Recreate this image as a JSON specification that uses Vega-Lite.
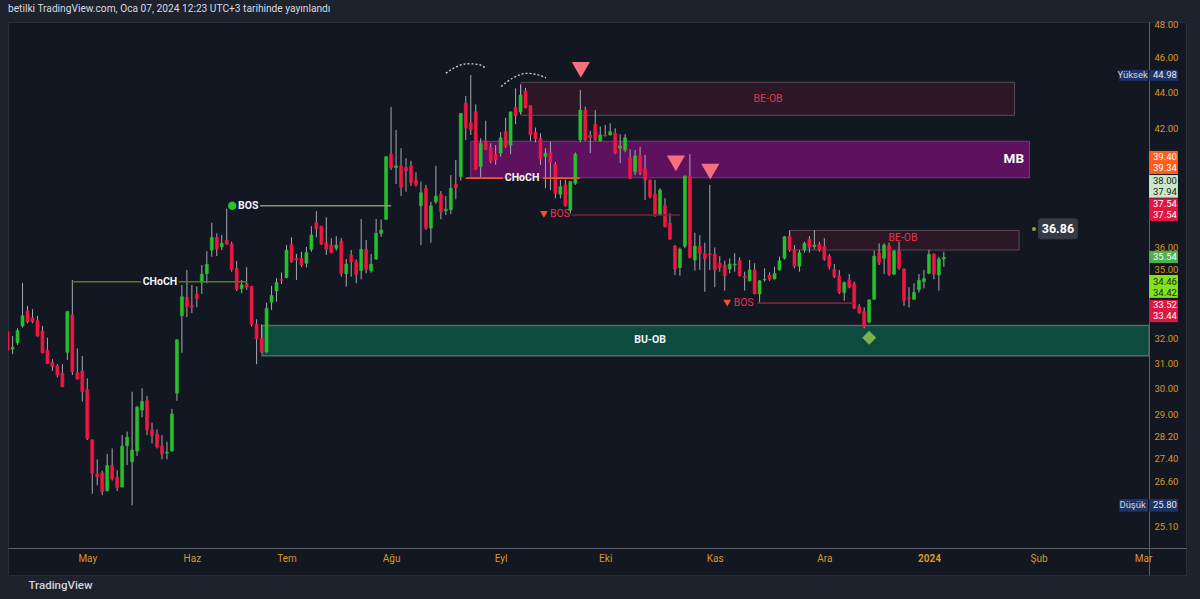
{
  "$schema": "https://vega.github.io/schema/vega-lite/v6.json",
  "width": 1178,
  "height": 553,
  "autosize": {"type": "none"},
  "padding": {"left": 8, "top": 22, "right": 14, "bottom": 24},
  "background": "#1e222d",
  "config": {
    "view": {"fill": "#131722", "stroke": "#2a2e39"},
    "font": "Roboto",
    "legend": {"disable": true},
    "scale": {"continuousPadding": 0}
  },
  "title": {
    "text": "betilki TradingView.com, Oca 07, 2024 12:23 UTC+3 tarihinde yayınlandı",
    "anchor": "start", "frame": "group", "fontSize": 10.2, "fontWeight": "normal",
    "color": "#d8dbe2", "font": "Roboto", "offset": 6
  },
  "datasets": {
    "k": [
      {"i":-16,"o":32.29,"h":32.35,"l":31.48,"c":31.53},
      {"i":-15,"o":31.57,"h":32.11,"l":31.37,"c":31.64},
      {"i":-14,"o":31.83,"h":32.43,"l":31.74,"c":32.33},
      {"i":-13,"o":32.53,"h":34.39,"l":32.46,"c":32.96},
      {"i":-12,"o":33.17,"h":33.38,"l":32.64,"c":32.71},
      {"i":-11,"o":32.87,"h":33.24,"l":32.64,"c":32.70},
      {"i":-10,"o":32.75,"h":32.96,"l":32.08,"c":32.11},
      {"i":-9,"o":32.31,"h":32.53,"l":31.40,"c":31.42},
      {"i":-8,"o":31.53,"h":32.04,"l":30.97,"c":30.99},
      {"i":-7,"o":31.03,"h":31.16,"l":30.70,"c":30.86},
      {"i":-6,"o":30.89,"h":30.97,"l":30.44,"c":30.53},
      {"i":-5,"o":30.60,"h":30.96,"l":30.05,"c":30.08},
      {"i":-4,"o":31.44,"h":33.16,"l":31.13,"c":33.14},
      {"i":-3,"o":33.00,"h":34.52,"l":30.53,"c":30.66},
      {"i":-2,"o":30.62,"h":31.60,"l":30.36,"c":30.37},
      {"i":-1,"o":30.69,"h":31.29,"l":29.50,"c":29.88},
      {"i":0,"o":29.97,"h":30.40,"l":28.07,"c":28.13},
      {"i":1,"o":28.07,"h":28.10,"l":26.19,"c":26.89},
      {"i":2,"o":26.87,"h":27.38,"l":26.48,"c":26.77},
      {"i":3,"o":26.91,"h":26.98,"l":26.14,"c":26.25},
      {"i":4,"o":26.29,"h":27.57,"l":26.27,"c":27.16},
      {"i":5,"o":27.17,"h":27.77,"l":26.64,"c":26.69},
      {"i":6,"o":26.75,"h":27.00,"l":26.28,"c":26.40},
      {"i":7,"o":26.42,"h":28.25,"l":26.40,"c":27.85},
      {"i":8,"o":27.87,"h":28.38,"l":27.18,"c":28.17},
      {"i":9,"o":27.29,"h":29.88,"l":25.80,"c":27.71},
      {"i":10,"o":27.68,"h":29.34,"l":27.50,"c":29.28},
      {"i":11,"o":29.18,"h":30.01,"l":28.91,"c":29.50},
      {"i":12,"o":29.53,"h":29.72,"l":28.25,"c":28.44},
      {"i":13,"o":28.44,"h":28.71,"l":27.95,"c":28.23},
      {"i":14,"o":28.29,"h":28.46,"l":27.77,"c":27.83},
      {"i":15,"o":27.85,"h":28.25,"l":27.38,"c":27.57},
      {"i":16,"o":27.60,"h":28.01,"l":27.38,"c":27.63},
      {"i":17,"o":27.68,"h":29.22,"l":27.65,"c":29.03},
      {"i":18,"o":29.82,"h":31.97,"l":29.53,"c":31.95},
      {"i":19,"o":32.96,"h":34.30,"l":31.42,"c":33.78},
      {"i":20,"o":33.76,"h":34.97,"l":32.90,"c":33.35},
      {"i":21,"o":33.41,"h":34.30,"l":33.07,"c":33.32},
      {"i":22,"o":33.90,"h":34.23,"l":33.32,"c":33.70},
      {"i":23,"o":34.40,"h":35.19,"l":33.90,"c":34.78},
      {"i":24,"o":34.80,"h":35.83,"l":34.37,"c":35.22},
      {"i":25,"o":35.88,"h":37.17,"l":35.57,"c":36.47},
      {"i":26,"o":36.47,"h":36.66,"l":35.60,"c":35.93},
      {"i":27,"o":36.03,"h":36.58,"l":35.88,"c":36.19},
      {"i":28,"o":36.35,"h":37.85,"l":36.13,"c":36.15},
      {"i":29,"o":36.15,"h":36.27,"l":34.89,"c":35.00},
      {"i":30,"o":35.04,"h":35.37,"l":34.03,"c":34.11},
      {"i":31,"o":34.13,"h":34.52,"l":33.93,"c":34.30},
      {"i":32,"o":34.35,"h":35.09,"l":34.08,"c":34.19},
      {"i":33,"o":34.23,"h":34.25,"l":32.50,"c":32.60},
      {"i":34,"o":32.60,"h":32.81,"l":30.96,"c":31.99},
      {"i":35,"o":32.02,"h":32.60,"l":31.42,"c":31.46},
      {"i":36,"o":31.46,"h":33.52,"l":31.42,"c":33.28},
      {"i":37,"o":33.54,"h":34.26,"l":33.21,"c":33.83},
      {"i":38,"o":34.03,"h":34.60,"l":33.56,"c":34.41},
      {"i":39,"o":34.54,"h":34.85,"l":34.34,"c":34.50},
      {"i":40,"o":34.62,"h":36.11,"l":34.60,"c":35.88},
      {"i":41,"o":36.14,"h":36.47,"l":35.30,"c":35.34},
      {"i":42,"o":35.50,"h":35.70,"l":34.52,"c":35.42},
      {"i":43,"o":35.50,"h":35.80,"l":35.11,"c":35.19},
      {"i":44,"o":35.27,"h":36.03,"l":35.08,"c":35.76},
      {"i":45,"o":35.91,"h":37.00,"l":35.80,"c":36.58},
      {"i":46,"o":37.17,"h":37.73,"l":36.47,"c":36.88},
      {"i":47,"o":37.00,"h":37.02,"l":36.11,"c":36.15},
      {"i":48,"o":36.23,"h":37.43,"l":35.65,"c":35.91},
      {"i":49,"o":36.11,"h":36.43,"l":35.73,"c":35.76},
      {"i":50,"o":35.96,"h":36.53,"l":35.85,"c":36.11},
      {"i":51,"o":36.30,"h":36.43,"l":34.67,"c":34.81},
      {"i":52,"o":34.80,"h":35.47,"l":34.23,"c":35.23},
      {"i":53,"o":35.65,"h":35.88,"l":34.67,"c":35.34},
      {"i":54,"o":35.34,"h":35.45,"l":34.37,"c":34.77},
      {"i":55,"o":34.94,"h":37.35,"l":34.55,"c":35.91},
      {"i":56,"o":35.91,"h":36.35,"l":34.82,"c":35.00},
      {"i":57,"o":34.94,"h":35.70,"l":34.85,"c":35.23},
      {"i":58,"o":35.47,"h":37.35,"l":35.42,"c":36.66},
      {"i":59,"o":36.66,"h":37.32,"l":36.50,"c":36.82},
      {"i":60,"o":37.33,"h":40.50,"l":37.30,"c":40.48},
      {"i":61,"o":40.62,"h":43.17,"l":39.79,"c":39.92},
      {"i":62,"o":39.92,"h":41.90,"l":39.08,"c":40.00},
      {"i":63,"o":40.00,"h":40.92,"l":38.47,"c":38.91},
      {"i":64,"o":39.92,"h":40.40,"l":38.69,"c":39.74},
      {"i":65,"o":40.00,"h":40.26,"l":38.98,"c":39.14},
      {"i":66,"o":39.28,"h":39.67,"l":38.94,"c":39.03},
      {"i":67,"o":37.99,"h":39.20,"l":36.11,"c":38.64},
      {"i":68,"o":38.86,"h":39.03,"l":36.82,"c":36.91},
      {"i":69,"o":36.91,"h":38.19,"l":36.22,"c":37.99},
      {"i":70,"o":38.19,"h":40.00,"l":38.09,"c":38.47},
      {"i":71,"o":38.56,"h":38.72,"l":37.33,"c":37.69},
      {"i":72,"o":37.75,"h":38.47,"l":37.54,"c":37.82},
      {"i":73,"o":37.80,"h":39.53,"l":37.59,"c":38.86},
      {"i":74,"o":39.07,"h":40.31,"l":38.31,"c":38.88},
      {"i":75,"o":39.45,"h":42.82,"l":39.25,"c":42.80},
      {"i":76,"o":43.38,"h":43.78,"l":41.36,"c":42.01},
      {"i":77,"o":42.29,"h":44.98,"l":41.63,"c":41.92},
      {"i":78,"o":42.90,"h":43.31,"l":39.79,"c":39.83},
      {"i":79,"o":39.97,"h":41.45,"l":39.41,"c":41.18},
      {"i":80,"o":41.31,"h":42.40,"l":40.83,"c":40.86},
      {"i":81,"o":40.97,"h":41.18,"l":40.14,"c":40.26},
      {"i":82,"o":40.60,"h":41.09,"l":40.05,"c":40.31},
      {"i":83,"o":40.66,"h":41.78,"l":40.48,"c":41.48},
      {"i":84,"o":41.81,"h":42.56,"l":40.95,"c":41.02},
      {"i":85,"o":41.09,"h":42.90,"l":40.61,"c":42.89},
      {"i":86,"o":43.13,"h":44.21,"l":42.21,"c":42.67},
      {"i":87,"o":42.89,"h":44.43,"l":42.75,"c":43.83},
      {"i":88,"o":44.06,"h":44.24,"l":43.08,"c":43.12},
      {"i":89,"o":43.23,"h":43.25,"l":41.31,"c":41.63},
      {"i":90,"o":41.78,"h":42.03,"l":41.24,"c":41.41},
      {"i":91,"o":41.45,"h":41.72,"l":40.05,"c":40.36},
      {"i":92,"o":40.49,"h":40.92,"l":38.86,"c":40.66},
      {"i":93,"o":40.69,"h":41.27,"l":38.77,"c":40.19},
      {"i":94,"o":40.08,"h":40.19,"l":38.36,"c":38.60},
      {"i":95,"o":38.56,"h":39.28,"l":38.36,"c":38.94},
      {"i":96,"o":39.03,"h":39.30,"l":37.95,"c":37.99},
      {"i":97,"o":37.78,"h":39.22,"l":37.62,"c":39.20},
      {"i":98,"o":39.11,"h":40.69,"l":39.03,"c":40.60},
      {"i":99,"o":41.36,"h":44.12,"l":41.24,"c":42.99},
      {"i":100,"o":42.99,"h":43.18,"l":41.31,"c":41.36},
      {"i":101,"o":41.63,"h":41.85,"l":40.66,"c":41.49},
      {"i":102,"o":42.21,"h":42.99,"l":41.31,"c":41.36},
      {"i":103,"o":41.31,"h":42.09,"l":41.27,"c":41.63},
      {"i":104,"o":41.63,"h":42.17,"l":41.54,"c":41.58},
      {"i":105,"o":41.63,"h":42.26,"l":41.60,"c":41.81},
      {"i":106,"o":41.72,"h":41.99,"l":40.61,"c":40.66},
      {"i":107,"o":40.92,"h":41.67,"l":40.14,"c":41.04},
      {"i":108,"o":40.83,"h":41.67,"l":40.71,"c":41.48},
      {"i":109,"o":40.40,"h":40.87,"l":39.33,"c":39.36},
      {"i":110,"o":39.70,"h":40.83,"l":39.53,"c":40.52},
      {"i":111,"o":40.53,"h":41.00,"l":39.53,"c":39.65},
      {"i":112,"o":39.87,"h":40.57,"l":38.27,"c":39.28},
      {"i":113,"o":39.28,"h":39.31,"l":38.36,"c":38.44},
      {"i":114,"o":38.57,"h":39.28,"l":37.46,"c":37.54},
      {"i":115,"o":37.54,"h":38.86,"l":37.49,"c":38.77},
      {"i":116,"o":37.99,"h":38.36,"l":36.95,"c":36.98},
      {"i":117,"o":37.14,"h":37.62,"l":36.35,"c":36.39},
      {"i":118,"o":36.06,"h":36.11,"l":34.74,"c":35.01},
      {"i":119,"o":35.08,"h":36.00,"l":34.71,"c":35.91},
      {"i":120,"o":36.06,"h":39.50,"l":35.96,"c":39.48},
      {"i":121,"o":39.45,"h":40.62,"l":35.50,"c":35.54},
      {"i":122,"o":35.42,"h":36.69,"l":34.94,"c":36.06},
      {"i":123,"o":36.06,"h":36.58,"l":34.97,"c":35.73},
      {"i":124,"o":35.73,"h":36.22,"l":34.00,"c":35.47},
      {"i":125,"o":35.71,"h":39.03,"l":34.97,"c":35.66},
      {"i":126,"o":35.68,"h":36.00,"l":34.20,"c":34.97},
      {"i":127,"o":35.27,"h":35.60,"l":34.89,"c":35.07},
      {"i":128,"o":35.19,"h":35.39,"l":34.05,"c":34.70},
      {"i":129,"o":35.01,"h":35.50,"l":34.82,"c":35.24},
      {"i":130,"o":35.20,"h":35.73,"l":34.89,"c":35.24},
      {"i":131,"o":35.39,"h":35.54,"l":34.67,"c":34.71},
      {"i":132,"o":34.69,"h":34.89,"l":34.05,"c":34.62},
      {"i":133,"o":34.48,"h":35.42,"l":34.45,"c":34.97},
      {"i":134,"o":34.97,"h":35.27,"l":33.89,"c":33.90},
      {"i":135,"o":33.90,"h":34.52,"l":33.50,"c":34.48},
      {"i":136,"o":34.52,"h":35.04,"l":34.45,"c":34.55},
      {"i":137,"o":34.74,"h":34.86,"l":34.48,"c":34.55},
      {"i":138,"o":34.56,"h":35.11,"l":34.55,"c":34.81},
      {"i":139,"o":34.97,"h":35.57,"l":34.94,"c":35.39},
      {"i":140,"o":35.50,"h":36.53,"l":35.45,"c":36.50},
      {"i":141,"o":36.53,"h":36.81,"l":35.80,"c":35.88},
      {"i":142,"o":35.91,"h":36.11,"l":35.04,"c":35.14},
      {"i":143,"o":35.14,"h":35.88,"l":34.89,"c":35.76},
      {"i":144,"o":35.88,"h":36.27,"l":35.76,"c":36.19},
      {"i":145,"o":36.38,"h":36.53,"l":35.76,"c":36.00},
      {"i":146,"o":36.04,"h":36.81,"l":35.91,"c":36.11},
      {"i":147,"o":36.16,"h":36.27,"l":35.80,"c":35.88},
      {"i":148,"o":36.04,"h":36.43,"l":35.39,"c":35.45},
      {"i":149,"o":35.60,"h":35.70,"l":34.99,"c":35.11},
      {"i":150,"o":34.99,"h":35.24,"l":34.60,"c":34.67},
      {"i":151,"o":34.70,"h":34.97,"l":33.90,"c":33.97},
      {"i":152,"o":33.97,"h":34.45,"l":33.61,"c":34.40},
      {"i":153,"o":34.52,"h":34.78,"l":34.15,"c":34.20},
      {"i":154,"o":34.35,"h":34.45,"l":33.24,"c":33.28},
      {"i":155,"o":33.35,"h":33.46,"l":33.04,"c":33.09},
      {"i":156,"o":33.14,"h":33.32,"l":32.43,"c":32.50},
      {"i":157,"o":32.69,"h":33.67,"l":32.64,"c":33.64},
      {"i":158,"o":33.67,"h":35.85,"l":33.65,"c":35.60},
      {"i":159,"o":35.76,"h":36.19,"l":35.19,"c":35.31},
      {"i":160,"o":35.50,"h":36.19,"l":34.78,"c":36.11},
      {"i":161,"o":36.08,"h":36.22,"l":34.70,"c":34.78},
      {"i":162,"o":34.78,"h":35.88,"l":34.74,"c":35.83},
      {"i":163,"o":35.83,"h":36.27,"l":34.97,"c":35.06},
      {"i":164,"o":35.01,"h":35.04,"l":33.38,"c":33.61},
      {"i":165,"o":33.74,"h":34.20,"l":33.32,"c":33.69},
      {"i":166,"o":33.67,"h":34.37,"l":33.64,"c":33.97},
      {"i":167,"o":34.09,"h":34.78,"l":33.96,"c":34.50},
      {"i":168,"o":34.45,"h":34.97,"l":34.15,"c":34.58},
      {"i":169,"o":34.82,"h":35.88,"l":34.78,"c":35.68},
      {"i":170,"o":35.68,"h":35.73,"l":34.55,"c":34.78},
      {"i":171,"o":34.74,"h":35.57,"l":34.05,"c":35.47},
      {"i":172,"o":35.47,"h":35.80,"l":35.11,"c":35.54}
    ],
    "zones": [
      {"z":"BE-OB","i":87.1,"i2":186.2,"p":44.56,"p2":42.70},
      {"z":"BE-OB","i":141.1,"i2":187.1,"p":36.80,"p2":35.88},
      {"z":"MB","i":77.0,"i2":189.2,"p":41.29,"p2":39.39},
      {"z":"BU-OB","i":35.1,"i2":213.2,"p":32.55,"p2":31.30}
    ],
    "segs": [
      {"s":"choch1","i":-3.0,"i2":10.8,"p":34.44},
      {"s":"choch1","i":18.4,"i2":32.1,"p":34.44},
      {"s":"bosg","i":34.7,"i2":61.0,"p":37.99},
      {"s":"choch2","i":76.0,"i2":83.5,"p":39.37},
      {"s":"choch2","i":91.5,"i2":98.9,"p":39.37},
      {"s":"bosr","i":97.3,"i2":119.0,"p":37.54},
      {"s":"bosr","i":134.5,"i2":153.9,"p":33.50}
    ],
    "arcs": [
      {"a":1,"i":72.0,"p":45.08},{"a":1,"i":73.8,"p":45.42},{"a":1,"i":76.4,"p":45.64},{"a":1,"i":78.5,"p":45.60},{"a":1,"i":80.0,"p":45.39},
      {"a":2,"i":83.1,"p":44.32},{"a":2,"i":85.3,"p":44.78},{"a":2,"i":88.3,"p":45.08},{"a":2,"i":90.5,"p":44.99},{"a":2,"i":92.1,"p":44.82}
    ],
    "pts": [
      {"m":"tri","i":99.1,"p":45.28},
      {"m":"tri","i":118.2,"p":40.13},
      {"m":"tri","i":125.1,"p":39.70},
      {"m":"dia","i":157.0,"p":32.04},
      {"m":"dot","i":29.1,"p":37.99},
      {"m":"rtri","i":91.7,"p":37.57},
      {"m":"rtri","i":128.5,"p":33.50},
      {"m":"odot","i":190.1,"p":36.87}
    ],
    "labels": [
      {"g":"red","t":"BE-OB","i":136.7,"p":43.60},
      {"g":"red","t":"BE-OB","i":163.8,"p":36.42},
      {"g":"red","t":"BOS","i":94.9,"p":37.57},
      {"g":"red","t":"BOS","i":131.8,"p":33.50},
      {"g":"white","t":"CHoCH","i":14.6,"p":34.44},
      {"g":"white","t":"CHoCH","i":87.3,"p":39.37},
      {"g":"white","t":"BOS","i":32.3,"p":37.99},
      {"g":"white","t":"BU-OB","i":113.0,"p":31.93}
    ],
    "tags": [
      {"s":"hl","i":213.2,"i2":219.0,"p":45.28,"p2":44.64},
      {"s":"hl","i":207.2,"i2":213.0,"p":45.28,"p2":44.64},
      {"s":"mb","i":213.2,"i2":219.0,"p":40.78,"p2":39.58},
      {"s":"lt","i":213.2,"i2":219.0,"p":39.53,"p2":38.39},
      {"s":"bos","i":213.2,"i2":219.0,"p":38.36,"p2":37.25},
      {"s":"last","i":213.2,"i2":219.0,"p":35.84,"p2":35.28},
      {"s":"lime","i":213.2,"i2":219.0,"p":34.74,"p2":33.73},
      {"s":"bos","i":213.2,"i2":219.0,"p":33.64,"p2":32.69},
      {"s":"hl","i":213.2,"i2":219.0,"p":26.01,"p2":25.59},
      {"s":"hl","i":207.2,"i2":213.0,"p":26.01,"p2":25.59}
    ],
    "tagtext": [
      {"s":"hl","t":"44.98","i":214.0,"p":44.97},
      {"s":"mb","t":"39.40","i":214.0,"p":40.48},
      {"s":"mb","t":"39.34","i":214.0,"p":39.90},
      {"s":"lt","t":"38.00","i":214.0,"p":39.25},
      {"s":"lt","t":"37.94","i":214.0,"p":38.66},
      {"s":"bos","t":"37.54","i":214.0,"p":38.09},
      {"s":"bos","t":"37.54","i":214.0,"p":37.54},
      {"s":"last","t":"35.54","i":214.0,"p":35.55},
      {"s":"lime","t":"34.46","i":214.0,"p":34.44},
      {"s":"lime","t":"34.42","i":214.0,"p":33.96},
      {"s":"bos","t":"33.52","i":214.0,"p":33.41},
      {"s":"bos","t":"33.44","i":214.0,"p":32.94},
      {"s":"hl","t":"25.80","i":214.0,"p":25.80}
    ],
    "tagname": [
      {"t":"Yüksek","i":209.9,"p":44.97},
      {"t":"Düşük","i":209.9,"p":25.80}
    ],
    "cur": [
      {"t":"36.86","i":190.9,"i2":198.9,"p":37.38,"p2":36.38,"ic":194.9,"pc":36.87}
    ]
  },
  "layer": [
    {
      "data": {"name": "zones"},
      "transform": [{"filter": "datum.z === 'BE-OB'"}],
      "mark": {"type": "rect", "fill": "#2b1726", "stroke": "#5c4b57", "strokeWidth": 1},
      "encoding": {
        "x": {"field": "i", "type": "quantitative",
              "scale": {"domain": [-15.92, 220.62], "nice": false, "zero": false, "padding": 0},
              "axis": {
                "orient": "bottom", "offset": -27, "grid": false, "ticks": false,
                "values": [0, 21, 40, 61, 83, 104, 126, 148, 169, 191, 212],
                "labelExpr": "datum.value==0?'May':datum.value==21?'Haz':datum.value==40?'Tem':datum.value==61?'Ağu':datum.value==83?'Eyl':datum.value==104?'Eki':datum.value==126?'Kas':datum.value==148?'Ara':datum.value==169?'2024':datum.value==191?'Şub':'Mar'",
                "labelColor": "#d9982a", "labelFontSize": 10, "labelFont": "Roboto",
                "labelFontWeight": {"condition": {"test": "datum.value === 169", "value": "bold"}, "value": "normal"},
                "labelPadding": 5, "labelFlush": false, "labelOverlap": false,
                "domainColor": "#5d606b", "domainWidth": 1,
                "title": "TradingView", "titleX": 20, "titleY": 37, "titleAlign": "left",
                "titleBaseline": "middle", "titleAnchor": "start", "titleColor": "#d1d4dc",
                "titleFontSize": 11.5, "titleFontWeight": 500, "titleFont": "Roboto"
              }},
        "x2": {"field": "i2"},
        "y": {"field": "p", "type": "quantitative",
              "scale": {"type": "log", "domain": [23.58, 48.17], "nice": false, "zero": false},
              "axis": {
                "orient": "right", "offset": -37, "grid": false, "ticks": false,
                "values": [25.1, 26.6, 27.4, 28.2, 29, 30, 31, 32, 35, 36, 42, 44, 46, 48],
                "format": ".2f", "labelColor": "#d9982a", "labelFontSize": 9.5, "labelFont": "Roboto",
                "labelAlign": "left", "labelPadding": 5, "labelOverlap": false, "labelFlush": false,
                "domainColor": "#5d606b", "domainWidth": 1, "title": null
              }},
        "y2": {"field": "p2"}
      }
    },
    {
      "data": {"name": "zones"},
      "transform": [{"filter": "datum.z === 'MB'"}],
      "mark": {"type": "rect", "fill": "#5e115f", "stroke": "#7a3a7c", "strokeWidth": 1},
      "encoding": {
        "x": {"field": "i", "type": "quantitative"},
        "x2": {"field": "i2"},
        "y": {"field": "p", "type": "quantitative", "scale": {"type": "log", "domain": [23.58, 48.17], "nice": false, "zero": false}},
        "y2": {"field": "p2"}
      }
    },
    {
      "data": {"name": "zones"},
      "transform": [{"filter": "datum.z === 'BU-OB'"}],
      "mark": {"type": "rect", "fill": "#0f4a3e", "stroke": "#56686a", "strokeWidth": 1.5},
      "encoding": {
        "x": {"field": "i", "type": "quantitative"},
        "x2": {"field": "i2"},
        "y": {"field": "p", "type": "quantitative", "scale": {"type": "log", "domain": [23.58, 48.17], "nice": false, "zero": false}},
        "y2": {"field": "p2"}
      }
    },
    {
      "data": {"name": "k"},
      "mark": {"type": "rule", "color": "#a6a9b1", "strokeWidth": 1, "clip": true},
      "encoding": {
        "x": {"field": "i", "type": "quantitative"},
        "y": {"field": "l", "type": "quantitative", "scale": {"type": "log", "domain": [23.58, 48.17], "nice": false, "zero": false}},
        "y2": {"field": "h"}
      }
    },
    {
      "data": {"name": "k"},
      "transform": [{"filter": "datum.c >= datum.o"}],
      "mark": {"type": "bar", "size": 3, "color": "#26c12c", "stroke": "#26c12c", "strokeWidth": 0.6, "clip": true},
      "encoding": {
        "x": {"field": "i", "type": "quantitative"},
        "y": {"field": "o", "type": "quantitative", "scale": {"type": "log", "domain": [23.58, 48.17], "nice": false, "zero": false}},
        "y2": {"field": "c"}
      }
    },
    {
      "data": {"name": "k"},
      "transform": [{"filter": "datum.c < datum.o"}],
      "mark": {"type": "bar", "size": 3, "color": "#ee1842", "stroke": "#ee1842", "strokeWidth": 0.6, "clip": true},
      "encoding": {
        "x": {"field": "i", "type": "quantitative"},
        "y": {"field": "o", "type": "quantitative", "scale": {"type": "log", "domain": [23.58, 48.17], "nice": false, "zero": false}},
        "y2": {"field": "c"}
      }
    },
    {
      "data": {"name": "segs"},
      "mark": {"type": "rule", "strokeWidth": 1.6},
      "encoding": {
        "x": {"field": "i", "type": "quantitative"},
        "x2": {"field": "i2"},
        "y": {"field": "p", "type": "quantitative", "scale": {"type": "log", "domain": [23.58, 48.17], "nice": false, "zero": false}},
        "color": {"field": "s", "type": "nominal", "legend": null,
                  "scale": {"domain": ["choch1", "bosg", "choch2", "bosr"], "range": ["#4f7d26", "#7f9a80", "#e4582a", "#7d1f36"]}}
      }
    },
    {
      "data": {"name": "arcs"},
      "mark": {"type": "line", "color": "#cfd2d8", "strokeWidth": 1.3, "strokeDash": [2, 2], "interpolate": "monotone"},
      "encoding": {
        "x": {"field": "i", "type": "quantitative"},
        "y": {"field": "p", "type": "quantitative", "scale": {"type": "log", "domain": [23.58, 48.17], "nice": false, "zero": false}},
        "detail": {"field": "a", "type": "nominal"}
      }
    },
    {
      "data": {"name": "pts"},
      "transform": [{"filter": "datum.m === 'tri'"}],
      "mark": {"type": "point", "shape": "triangle-down", "filled": true, "size": 330, "color": "#f5707b", "opacity": 1},
      "encoding": {
        "x": {"field": "i", "type": "quantitative"},
        "y": {"field": "p", "type": "quantitative", "scale": {"type": "log", "domain": [23.58, 48.17], "nice": false, "zero": false}}
      }
    },
    {
      "data": {"name": "pts"},
      "transform": [{"filter": "datum.m === 'dia'"}],
      "mark": {"type": "point", "shape": "diamond", "filled": true, "size": 196, "color": "#78b34c", "opacity": 1},
      "encoding": {
        "x": {"field": "i", "type": "quantitative"},
        "y": {"field": "p", "type": "quantitative", "scale": {"type": "log", "domain": [23.58, 48.17], "nice": false, "zero": false}}
      }
    },
    {
      "data": {"name": "pts"},
      "transform": [{"filter": "datum.m === 'dot'"}],
      "mark": {"type": "point", "shape": "circle", "filled": true, "size": 70, "color": "#22c42a", "opacity": 1},
      "encoding": {
        "x": {"field": "i", "type": "quantitative"},
        "y": {"field": "p", "type": "quantitative", "scale": {"type": "log", "domain": [23.58, 48.17], "nice": false, "zero": false}}
      }
    },
    {
      "data": {"name": "pts"},
      "transform": [{"filter": "datum.m === 'rtri'"}],
      "mark": {"type": "point", "shape": "triangle-down", "filled": true, "size": 60, "color": "#f0552d", "opacity": 1},
      "encoding": {
        "x": {"field": "i", "type": "quantitative"},
        "y": {"field": "p", "type": "quantitative", "scale": {"type": "log", "domain": [23.58, 48.17], "nice": false, "zero": false}}
      }
    },
    {
      "data": {"name": "pts"},
      "transform": [{"filter": "datum.m === 'odot'"}],
      "mark": {"type": "point", "shape": "circle", "filled": true, "size": 16, "color": "#a69a3a", "opacity": 1},
      "encoding": {
        "x": {"field": "i", "type": "quantitative"},
        "y": {"field": "p", "type": "quantitative", "scale": {"type": "log", "domain": [23.58, 48.17], "nice": false, "zero": false}}
      }
    },
    {
      "data": {"name": "labels"},
      "transform": [{"filter": "datum.g === 'red'"}],
      "mark": {"type": "text", "color": "#e8344a", "fontSize": 10.5, "font": "Roboto", "align": "center", "baseline": "middle"},
      "encoding": {
        "x": {"field": "i", "type": "quantitative"},
        "y": {"field": "p", "type": "quantitative", "scale": {"type": "log", "domain": [23.58, 48.17], "nice": false, "zero": false}},
        "text": {"field": "t"}
      }
    },
    {
      "data": {"name": "labels"},
      "transform": [{"filter": "datum.g === 'white'"}],
      "mark": {"type": "text", "color": "#f0f3fa", "fontSize": 10.5, "fontWeight": "bold", "font": "Roboto", "align": "center", "baseline": "middle"},
      "encoding": {
        "x": {"field": "i", "type": "quantitative"},
        "y": {"field": "p", "type": "quantitative", "scale": {"type": "log", "domain": [23.58, 48.17], "nice": false, "zero": false}},
        "text": {"field": "t"}
      }
    },
    {
      "data": {"values": [{"t": "MB", "i": 188.1, "p": 40.35}]},
      "mark": {"type": "text", "color": "#ffffff", "fontSize": 13.5, "fontWeight": "bold", "font": "Roboto", "align": "right", "baseline": "middle"},
      "encoding": {
        "x": {"field": "i", "type": "quantitative"},
        "y": {"field": "p", "type": "quantitative", "scale": {"type": "log", "domain": [23.58, 48.17], "nice": false, "zero": false}},
        "text": {"field": "t"}
      }
    },
    {
      "data": {"name": "cur"},
      "mark": {"type": "rect", "fill": "#363a45", "cornerRadius": 3},
      "encoding": {
        "x": {"field": "i", "type": "quantitative"},
        "x2": {"field": "i2"},
        "y": {"field": "p", "type": "quantitative", "scale": {"type": "log", "domain": [23.58, 48.17], "nice": false, "zero": false}},
        "y2": {"field": "p2"}
      }
    },
    {
      "data": {"name": "cur"},
      "mark": {"type": "text", "color": "#ffffff", "fontSize": 12.5, "fontWeight": "bold", "font": "Roboto", "align": "center", "baseline": "middle"},
      "encoding": {
        "x": {"field": "ic", "type": "quantitative"},
        "y": {"field": "pc", "type": "quantitative", "scale": {"type": "log", "domain": [23.58, 48.17], "nice": false, "zero": false}},
        "text": {"field": "t"}
      }
    },
    {
      "data": {"name": "tags"},
      "mark": {"type": "rect", "clip": false},
      "encoding": {
        "x": {"field": "i", "type": "quantitative"},
        "x2": {"field": "i2"},
        "y": {"field": "p", "type": "quantitative", "scale": {"type": "log", "domain": [23.58, 48.17], "nice": false, "zero": false}},
        "y2": {"field": "p2"},
        "color": {"field": "s", "type": "nominal", "legend": null,
                  "scale": {"domain": ["hl", "mb", "lt", "bos", "last", "lime"], "range": ["#1f3466", "#ff5c1f", "#c9e7cb", "#dd1741", "#4caf50", "#84e21d"]}}
      }
    },
    {
      "data": {"name": "tagtext"},
      "mark": {"type": "text", "fontSize": 9.5, "font": "Roboto", "align": "left", "baseline": "middle"},
      "encoding": {
        "x": {"field": "i", "type": "quantitative"},
        "y": {"field": "p", "type": "quantitative", "scale": {"type": "log", "domain": [23.58, 48.17], "nice": false, "zero": false}},
        "text": {"field": "t"},
        "color": {"field": "s", "type": "nominal", "legend": null,
                  "scale": {"domain": ["hl", "mb", "lt", "bos", "last", "lime"], "range": ["#e6e8ee", "#ffffff", "#1a1d26", "#ffffff", "#ffffff", "#1a1d26"]}}
      }
    },
    {
      "data": {"name": "tagname"},
      "mark": {"type": "text", "fontSize": 9.5, "font": "Roboto", "align": "center", "baseline": "middle", "color": "#d1d4dc"},
      "encoding": {
        "x": {"field": "i", "type": "quantitative"},
        "y": {"field": "p", "type": "quantitative", "scale": {"type": "log", "domain": [23.58, 48.17], "nice": false, "zero": false}},
        "text": {"field": "t"}
      }
    }
  ],
  "resolve": {"scale": {"color": "independent"}}
}
